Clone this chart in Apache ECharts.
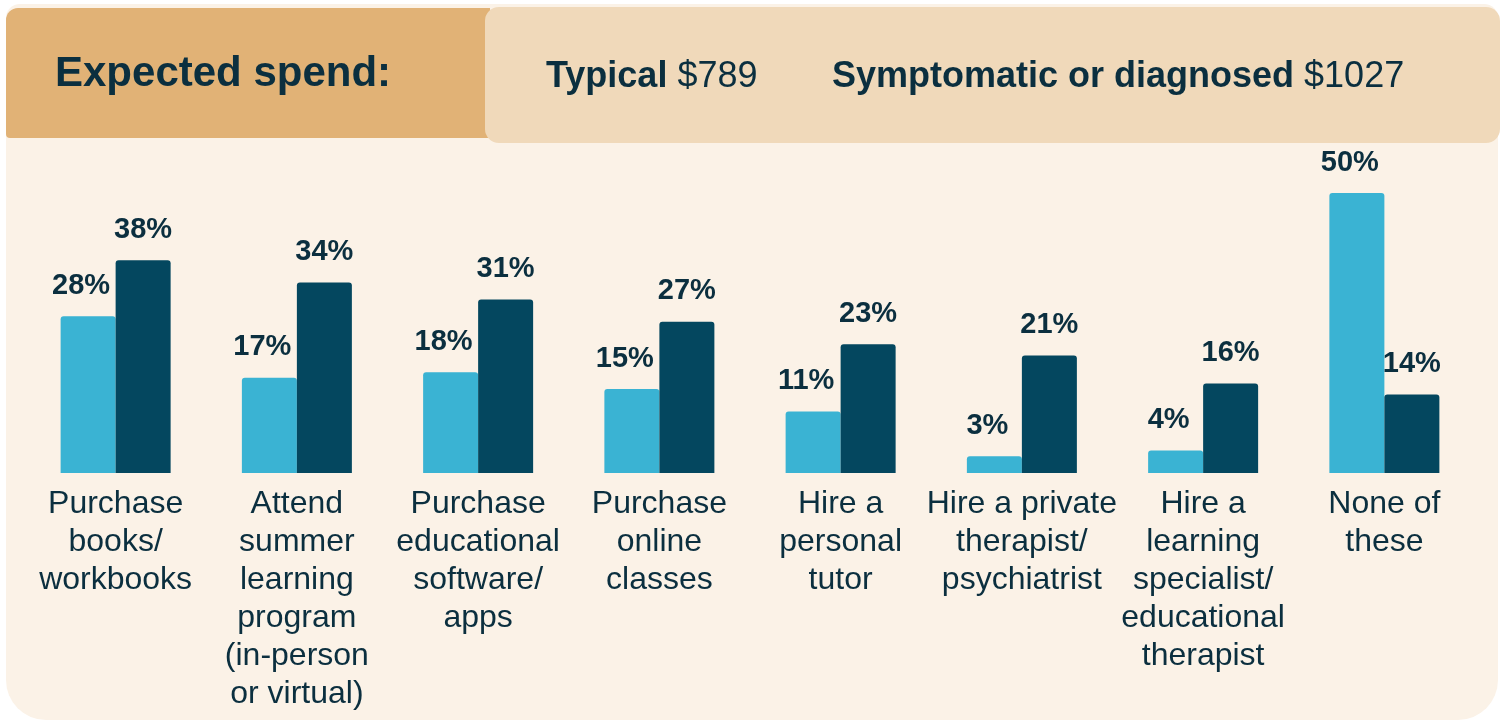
<!DOCTYPE html>
<html>
<head>
<meta charset="utf-8">
<title>Expected spend</title>
<script src="https://cdn.jsdelivr.net/npm/echarts@6/dist/echarts.min.js"></script>
<style>
  html, body { margin: 0; padding: 0; background: #ffffff; }
  #main { width: 1503px; height: 721px; }
</style>
</head>
<body>
<div id="main"></div>
<script>
// categories and values
var categories = [
    'Purchase\nbooks/\nworkbooks',
    'Attend\nsummer\nlearning\nprogram\n(in-person\nor virtual)',
    'Purchase\neducational\nsoftware/\napps',
    'Purchase\nonline\nclasses',
    'Hire a\npersonal\ntutor',
    'Hire a private\ntherapist/\npsychiatrist',
    'Hire a\nlearning\nspecialist/\neducational\ntherapist',
    'None of\nthese'
];
var typical = [28, 17, 18, 15, 11, 3, 4, 50];
var symptomatic = [38, 34, 31, 27, 23, 21, 16, 14];
var spendTypical = '$789';
var spendSymptomatic = '$1027';

var textColor = '#0b2f3f';
var fontName = '"Liberation Sans", Arial, Helvetica, sans-serif';

var myChart = echarts.init(document.getElementById('main'));
var headRich = {
    b: { fontFamily: fontName, fontSize: 36, fontWeight: 'bold', color: textColor },
    r: { fontFamily: fontName, fontSize: 36, fontWeight: 'normal', color: textColor }
};
var option = {
    backgroundColor: '#ffffff',
    title: [{
        text: 'Expected spend:',
        left: 55,
        top: 53,
        padding: 0,
        textStyle: { fontFamily: fontName, fontSize: 42, fontWeight: 'bold', color: textColor }
    }, {
        text: '{b|Typical }{r|' + spendTypical + '}',
        left: 546,
        top: 59,
        padding: 0,
        textStyle: { fontWeight: 'normal', rich: headRich }
    }, {
        text: '{b|Symptomatic or diagnosed }{r|' + spendSymptomatic + '}',
        left: 832,
        top: 59,
        padding: 0,
        textStyle: { fontWeight: 'normal', rich: headRich }
    }],
    graphic: [{
        type: 'rect', z: -10,
        shape: { x: 6, y: 4, width: 1492, height: 716, r: [14, 14, 40, 40] },
        style: { fill: '#fbf2e7' }
    }, {
        type: 'rect', z: -9,
        shape: { x: 6, y: 8, width: 484, height: 130, r: [12, 0, 0, 4] },
        style: { fill: '#e1b276' }
    }, {
        type: 'rect', z: -8,
        shape: { x: 485, y: 7, width: 1015, height: 136, r: 14 },
        style: { fill: '#f0d9ba' }
    }],
    grid: { left: 25, right: 28, top: 193, bottom: 248 },
    xAxis: {
        type: 'category',
        data: categories,
        axisLine: { show: false },
        axisTick: { show: false },
        axisLabel: {
            interval: 0,
            margin: 12,
            fontFamily: fontName,
            fontSize: 32,
            lineHeight: 38,
            color: textColor
        }
    },
    yAxis: {
        type: 'value',
        min: 0,
        max: 50,
        show: false
    },
    series: [{
        name: 'Typical',
        type: 'bar',
        data: typical,
        barWidth: 55,
        barGap: '0%',
        itemStyle: { color: '#3ab3d3', borderRadius: [3, 3, 0, 0] },
        label: {
            show: true,
            position: 'top',
            distance: 16,
            offset: [-7, 0],
            formatter: '{c}%',
            fontFamily: fontName,
            fontSize: 29,
            fontWeight: 'bold',
            color: textColor
        }
    }, {
        name: 'Symptomatic or diagnosed',
        type: 'bar',
        data: symptomatic,
        barWidth: 55,
        itemStyle: { color: '#04475f', borderRadius: [3, 3, 0, 0] },
        label: {
            show: true,
            position: 'top',
            distance: 16,
            formatter: '{c}%',
            fontFamily: fontName,
            fontSize: 29,
            fontWeight: 'bold',
            color: textColor
        }
    }]
};
myChart.setOption(option);
</script>
</body>
</html>
